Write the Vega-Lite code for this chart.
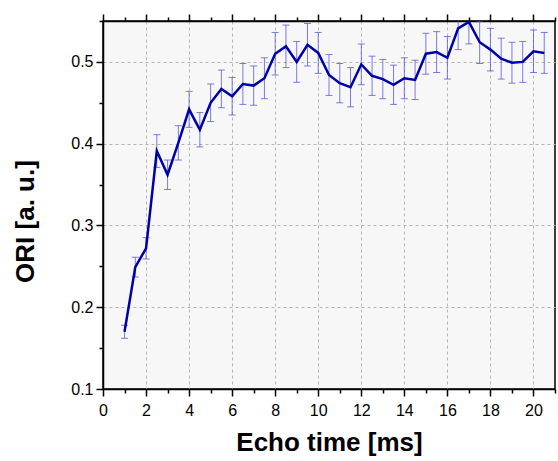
{
  "$schema": "https://vega.github.io/schema/vega-lite/v6.json",
  "width": 452,
  "height": 368,
  "autosize": {"type": "none"},
  "padding": {"left": 103, "top": 21, "right": 3, "bottom": 72},
  "background": "white",
  "config": {
    "view": {"fill": "#f7f7f7", "stroke": "black", "strokeWidth": 1.5},
    "font": "Liberation Sans"
  },
  "data": {
    "values": [
      {"t": 1, "ori": 0.170, "err": 0.008},
      {"t": 1.5, "ori": 0.249, "err": 0.012},
      {"t": 2, "ori": 0.272, "err": 0.013},
      {"t": 2.5, "ori": 0.391, "err": 0.020},
      {"t": 3, "ori": 0.362, "err": 0.018},
      {"t": 3.5, "ori": 0.401, "err": 0.021},
      {"t": 4, "ori": 0.442, "err": 0.022},
      {"t": 4.5, "ori": 0.417, "err": 0.021},
      {"t": 5, "ori": 0.450, "err": 0.023},
      {"t": 5.5, "ori": 0.467, "err": 0.023},
      {"t": 6, "ori": 0.458, "err": 0.023},
      {"t": 6.5, "ori": 0.473, "err": 0.025},
      {"t": 7, "ori": 0.471, "err": 0.024},
      {"t": 7.5, "ori": 0.480, "err": 0.025},
      {"t": 8, "ori": 0.510, "err": 0.026},
      {"t": 8.5, "ori": 0.519, "err": 0.026},
      {"t": 9, "ori": 0.500, "err": 0.025},
      {"t": 9.5, "ori": 0.521, "err": 0.026},
      {"t": 10, "ori": 0.511, "err": 0.025},
      {"t": 10.5, "ori": 0.484, "err": 0.025},
      {"t": 11, "ori": 0.474, "err": 0.024},
      {"t": 11.5, "ori": 0.469, "err": 0.024},
      {"t": 12, "ori": 0.497, "err": 0.025},
      {"t": 12.5, "ori": 0.483, "err": 0.024},
      {"t": 13, "ori": 0.479, "err": 0.024},
      {"t": 13.5, "ori": 0.472, "err": 0.024},
      {"t": 14, "ori": 0.480, "err": 0.025},
      {"t": 14.5, "ori": 0.478, "err": 0.024},
      {"t": 15, "ori": 0.510, "err": 0.025},
      {"t": 15.5, "ori": 0.512, "err": 0.025},
      {"t": 16, "ori": 0.505, "err": 0.026},
      {"t": 16.5, "ori": 0.541, "err": 0.026},
      {"t": 17, "ori": 0.549, "err": 0.027},
      {"t": 17.5, "ori": 0.524, "err": 0.026},
      {"t": 18, "ori": 0.515, "err": 0.026},
      {"t": 18.5, "ori": 0.504, "err": 0.025},
      {"t": 19, "ori": 0.499, "err": 0.025},
      {"t": 19.5, "ori": 0.500, "err": 0.025},
      {"t": 20, "ori": 0.513, "err": 0.026},
      {"t": 20.5, "ori": 0.511, "err": 0.025}
    ]
  },
  "layer": [
    {
      "mark": {
        "type": "errorbar",
        "clip": true,
        "ticks": {"size": 7, "thickness": 1, "color": "#5050e0", "opacity": 0.75},
        "rule": {"color": "#5050e0", "opacity": 0.75, "strokeWidth": 1}
      },
      "encoding": {
        "x": {
          "field": "t",
          "type": "quantitative",
          "scale": {"domain": [0, 21], "nice": false, "zero": false},
          "axis": {
            "orient": "bottom",
            "values": [0,1,2,3,4,5,6,7,8,9,10,11,12,13,14,15,16,17,18,19,20,21],
            "labelExpr": "datum.value % 2 === 0 ? datum.label : ''",
            "tickSize": {"condition": {"test": "datum.value % 2 === 0", "value": 7}, "value": 4},
            "tickColor": "black",
            "tickWidth": 1.5,
            "domainColor": "black",
            "domainWidth": 1.5,
            "grid": true,
            "gridColor": "#b5b5b5",
            "gridDash": [3, 3],
            "gridWidth": 1,
            "gridOpacity": {"condition": {"test": "datum.value % 2 === 0 && datum.value > 0", "value": 1}, "value": 0},
            "labelFontSize": 16,
            "labelColor": "black",
            "labelPadding": 6,
            "labelFlush": false,
            "title": "Echo time [ms]",
            "titleFontSize": 26,
            "titleFontWeight": "bold",
            "titleColor": "black",
            "titlePadding": 11
          }
        },
        "y": {
          "field": "ori",
          "type": "quantitative",
          "scale": {"domain": [0.1, 0.55], "nice": false, "zero": false},
          "axis": {
            "values": [0.1, 0.15, 0.2, 0.25, 0.3, 0.35, 0.4, 0.45, 0.5, 0.55],
            "format": ".1f",
            "labelExpr": "abs(datum.value * 10 - round(datum.value * 10)) < 0.001 ? datum.label : ''",
            "tickSize": {"condition": {"test": "abs(datum.value * 10 - round(datum.value * 10)) < 0.001", "value": 7}, "value": 4},
            "tickColor": "black",
            "tickWidth": 1.5,
            "domainColor": "black",
            "domainWidth": 1.5,
            "grid": true,
            "gridColor": "#b5b5b5",
            "gridDash": [3, 3],
            "gridWidth": 1,
            "gridOpacity": {"condition": {"test": "abs(datum.value * 10 - round(datum.value * 10)) < 0.001 && datum.value > 0.15", "value": 1}, "value": 0},
            "labelFontSize": 16,
            "labelColor": "black",
            "labelPadding": 3,
            "labelFlush": false,
            "title": "ORI [a. u.]",
            "titleFontSize": 26,
            "titleFontWeight": "bold",
            "titleColor": "black",
            "titlePadding": 32,
            "titleY": 200
          }
        },
        "yError": {"field": "err"}
      }
    },
    {
      "mark": {"type": "line", "color": "#0000a8", "strokeWidth": 2.5, "clip": true},
      "encoding": {
        "x": {
          "field": "t",
          "type": "quantitative",
          "axis": {
            "orient": "top",
            "values": [0,1,2,3,4,5,6,7,8,9,10,11,12,13,14,15,16,17,18,19,20,21],
            "labels": false,
            "tickSize": {"condition": {"test": "datum.value % 2 === 0", "value": 7}, "value": 4},
            "tickColor": "black",
            "tickWidth": 1.5,
            "domainColor": "black",
            "domainWidth": 1.5,
            "grid": false,
            "title": null
          }
        },
        "y": {"field": "ori", "type": "quantitative"}
      }
    }
  ],
  "resolve": {"axis": {"x": "independent"}}
}
